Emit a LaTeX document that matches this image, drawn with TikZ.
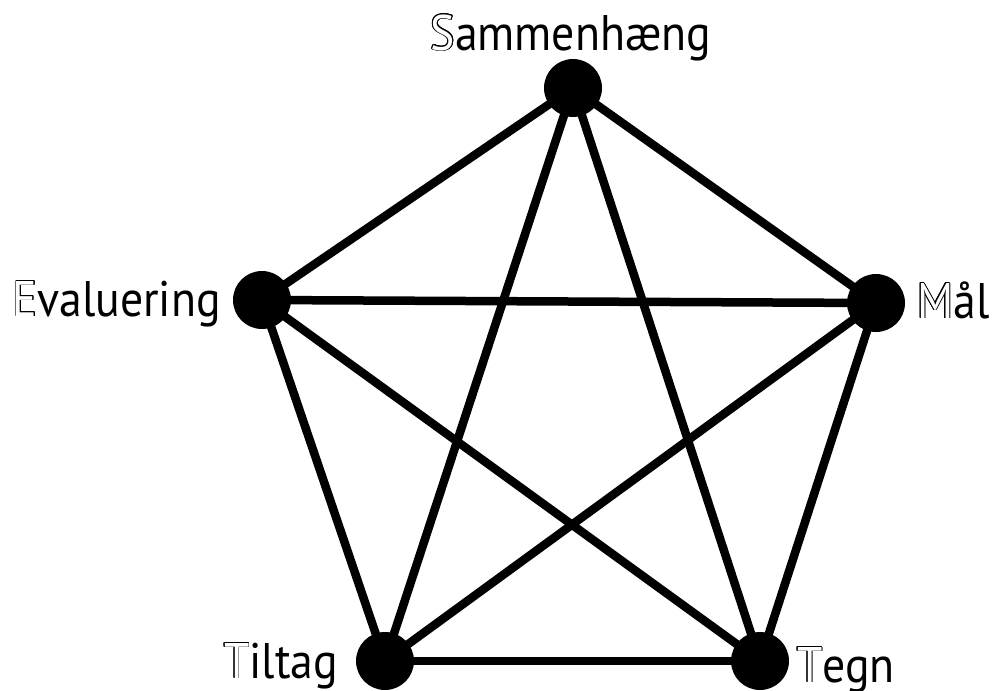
\documentclass[tikz,border=0pt]{standalone}
\usepackage{fontspec}
\setmainfont{PT Sans}
\usepackage{contour}
\contourlength{0.9pt}
\newcommand{\hollow}[1]{\contour{black}{\textcolor{white}{#1}}}
\newcommand{\narrow}[1]{\scalebox{0.915}[1]{#1}}

\begin{document}
\begin{tikzpicture}[x=1pt,y=-1pt,
  dot/.style={circle,fill=black,inner sep=0pt,minimum size=58pt},
  edge/.style={line width=8.5pt},
  lbl/.style={font=\fontsize{50}{60}\selectfont,inner sep=0pt}]
  \useasboundingbox (0,0) rectangle (994,691);
  \node[dot] (sam) at (573,88) {};  % top
  \node[dot] (maal) at (876,303) {}; % right
  \node[dot] (tegn) at (760,661) {}; % bottom right
  \node[dot] (tilt) at (385,661) {}; % bottom left
  \node[dot] (eval) at (262,300) {}; % left
  \foreach \a/\b in {sam/maal,sam/tegn,sam/tilt,sam/eval,maal/tegn,maal/tilt,maal/eval,tegn/tilt,tegn/eval,tilt/eval}
    \draw[edge] (\a.center) -- (\b.center);
  \node[lbl,anchor=base] (samtxt) at (571,50) {\narrow{\hollow{S}ammenhæng}};
  \node[lbl,anchor=base east] (evaltxt) at (221,316) {\narrow{\hollow{E}valuering}};
  \node[lbl,anchor=base west] (maaltxt) at (917,318) {\narrow{\hollow{M}ål}};
  \node[lbl,anchor=base east] (tilttxt) at (338,678) {\narrow{\hollow{T}iltag}};
  \node[lbl,anchor=base west] (tegntxt) at (797,682) {\narrow{\hollow{T}egn}};
\end{tikzpicture}
\end{document}
